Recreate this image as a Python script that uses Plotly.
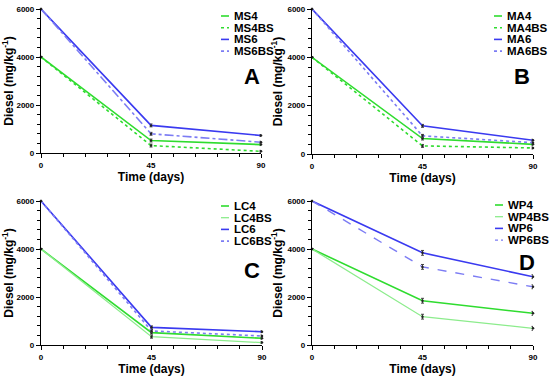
import plotly.graph_objects as go

W, H = 550, 379
days = [0, 45, 90]

# Panel A
MS4 = [4000, 520, 350]
MS4BS = [4000, 310, 70]
MS6 = [6000, 1150, 730]
MS6BS = [6000, 800, 450]
# Panel B
MA4 = [4000, 640, 400]
MA4BS = [4000, 335, 250]
MA6 = [6000, 1165, 570]
MA6BS = [6000, 750, 470]
# Panel C
LC4 = [4000, 515, 280]
LC4BS = [4000, 345, 100]
LC6 = [6000, 735, 555]
LC6BS = [6000, 585, 375]
# Panel D
WP4 = [4000, 1845, 1320]
WP4BS = [4000, 1180, 695]
WP6 = [6000, 3840, 2845]
WP6BS = [6000, 3255, 2425]

err_small = [0, 60, 40]
err_D = [0, 100, 80]

GREEN = "#2fdc2f"
LGREEN = "#8cec8c"
BLUE = "#3a3af0"
LBLUE = "#7c7cf4"

panels = [
    dict(letter="A", names=["MS4", "MS4BS", "MS6", "MS6BS"], data=[MS4, MS4BS, MS6, MS6BS],
         styles=[(GREEN, "solid", 1.6), (GREEN, "dot", 1.6), (BLUE, "solid", 1.6), (LBLUE, "dashdot", 1.6)],
         err=err_small, box=(41, 261, 9, 153)),
    dict(letter="B", names=["MA4", "MA4BS", "MA6", "MA6BS"], data=[MA4, MA4BS, MA6, MA6BS],
         styles=[(GREEN, "solid", 1.6), (GREEN, "dot", 1.6), (BLUE, "solid", 1.6), (LBLUE, "dot", 1.6)],
         err=err_small, box=(312, 533, 9, 154)),
    dict(letter="C", names=["LC4", "LC4BS", "LC6", "LC6BS"], data=[LC4, LC4BS, LC6, LC6BS],
         styles=[(GREEN, "solid", 1.6), (LGREEN, "solid", 1.3), (BLUE, "solid", 1.6), (LBLUE, "dot", 1.6)],
         err=err_small, box=(41, 262, 201, 345)),
    dict(letter="D", names=["WP4", "WP4BS", "WP6", "WP6BS"], data=[WP4, WP4BS, WP6, WP6BS],
         styles=[(GREEN, "solid", 1.6), (LGREEN, "solid", 1.3), (BLUE, "solid", 1.6), (LBLUE, "dash", 1.4)],
         err=err_D, box=(312, 533, 201, 345)),
]

legend_pos = {"A": (232, 16), "B": (505, 16), "C": (232, 206), "D": (506, 205)}
letter_pos = {"A": (252, 77), "B": (522, 77), "C": (252, 270), "D": (527, 262)}

def px(x):
    return x / W

def py(y):
    return 1 - y / H

fig = go.Figure()
annotations = []
shapes = []
FONT = "Liberation Sans, Arial, sans-serif"

for i, p in enumerate(panels):
    n = i + 1
    xa = "x" if n == 1 else f"x{n}"
    ya = "y" if n == 1 else f"y{n}"
    for name, vals, (col, dash, lw) in zip(p["names"], p["data"], p["styles"]):
        fig.add_trace(go.Scatter(
            x=days, y=vals, name=name, mode="lines+markers",
            line=dict(color=col, dash=dash, width=lw),
            marker=dict(size=2.5, color="#222"),
            error_y=dict(type="data", array=p["err"], color="#444", thickness=1, width=1.5),
            xaxis=xa, yaxis=ya, showlegend=False, cliponaxis=False))
    x0, x1, y0, y1 = p["box"]
    axis_common = dict(showline=True, linecolor="black", linewidth=1.3, ticks="outside",
                       tickcolor="black", ticklen=4, tickwidth=1.2, showgrid=False, zeroline=False,
                       automargin=False,
                       tickfont=dict(family=FONT, size=8, color="black", weight="bold"))
    fig.update_layout(**{
        ("xaxis" if n == 1 else f"xaxis{n}"): dict(
            domain=[px(x0), px(x1)], anchor=ya, range=[0, 90], tickvals=[0, 45, 90],
            minor=dict(dtick=9, ticks="outside", ticklen=2.5, tickcolor="black", tickwidth=1),
            title=dict(text="Time (days)", font=dict(family=FONT, size=12, color="black", weight="bold"), standoff=3),
            **axis_common),
        ("yaxis" if n == 1 else f"yaxis{n}"): dict(
            domain=[py(y1), py(y0)], anchor=xa, range=[0, 6000], tickvals=[0, 2000, 4000, 6000],
            minor=dict(dtick=400, ticks="outside", ticklen=2.5, tickcolor="black", tickwidth=1),
            title=dict(text="Diesel (mg/kg<sup>-1</sup>)", font=dict(family=FONT, size=12, color="black", weight="bold"), standoff=2),
            **axis_common),
    })
    # legend
    lx, ly = legend_pos[p["letter"]]
    for k, (name, (col, dash, lw)) in enumerate(zip(p["names"], p["styles"])):
        yy = ly + k * 11.7
        shapes.append(dict(type="line", xref="paper", yref="paper",
                           x0=px(lx - 11), x1=px(lx - 3), y0=py(yy), y1=py(yy),
                           line=dict(color=col, width=lw, dash="dot" if dash != "solid" else "solid")))
        annotations.append(dict(xref="paper", yref="paper", x=px(lx), y=py(yy), xanchor="left",
                                yanchor="middle", text=name, showarrow=False,
                                font=dict(family=FONT, size=11.5, color="black", weight="bold")))
    bx, by = letter_pos[p["letter"]]
    annotations.append(dict(xref="paper", yref="paper", x=px(bx), y=py(by), xanchor="center",
                            yanchor="middle", text=p["letter"], showarrow=False,
                            font=dict(family=FONT, size=22, color="black", weight="bold")))

fig.update_layout(width=W, height=H, margin=dict(l=0, r=0, t=0, b=0),
                  plot_bgcolor="white", paper_bgcolor="white",
                  annotations=annotations, shapes=shapes, showlegend=False)
fig.write_html("out.html", config={"displayModeBar": False},
               post_script="document.body.style.margin='0';document.body.style.overflow='hidden';")
